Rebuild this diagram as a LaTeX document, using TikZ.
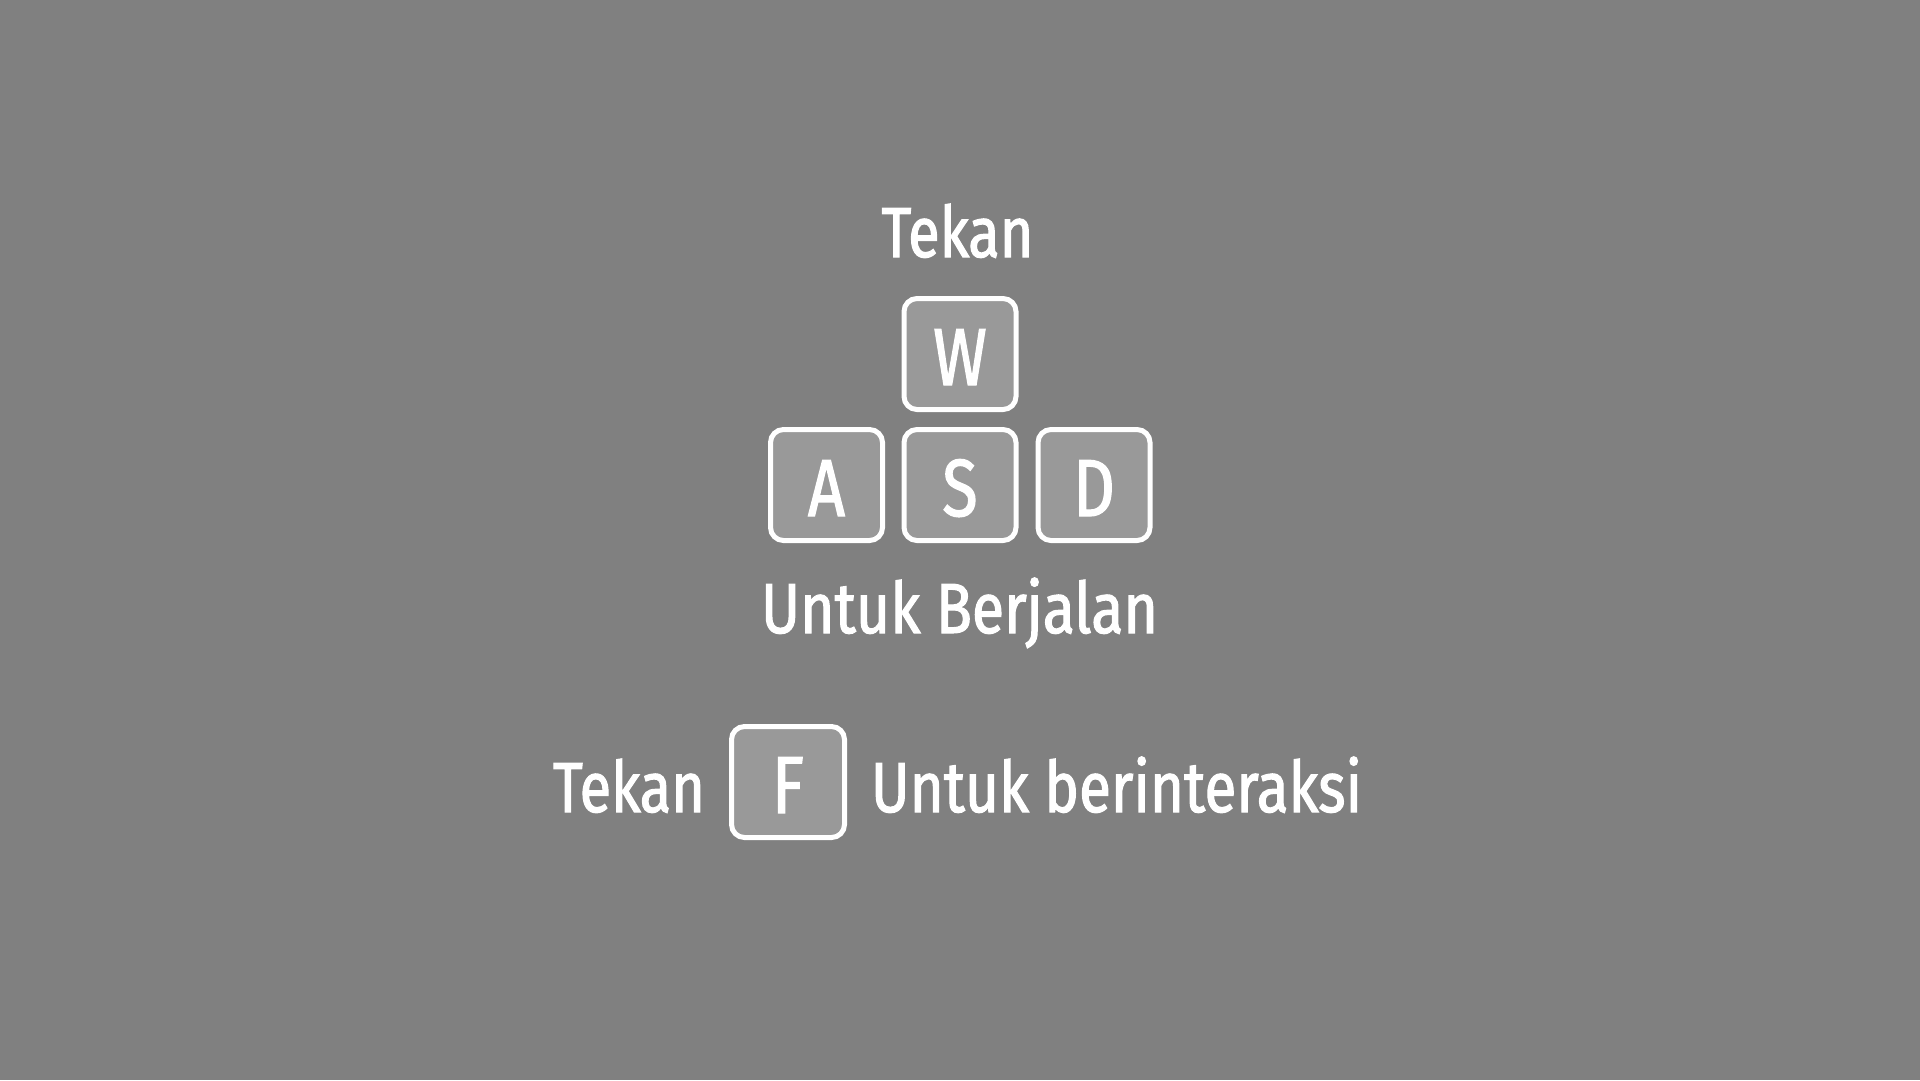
\documentclass[tikz,border=0pt]{standalone}
\usepackage{fontspec}
\setmainfont{Fira Sans}
\newfontfamily\uifont[FakeStretch=0.8,FakeBold=1.5]{Fira Sans}
\definecolor{bgc}{HTML}{808080}
\definecolor{keyc}{HTML}{999999}
\newcommand{\fitw}[2]{\resizebox{#1}{\height}{#2}}
\tikzset{
  keybox/.style={draw=white, line width=5pt, fill=keyc, rounded corners=13pt,
    minimum width=112pt, minimum height=111pt, inner sep=0pt,
    text=white, font=\uifont\fontsize{81}{81}\selectfont,
    text height=62pt, text depth=0pt, align=center},
  caption/.style={text=white, inner sep=0pt, anchor=base,
    font=\uifont\fontsize{71}{71}\selectfont}
}
\begin{document}
\begin{tikzpicture}[x=1pt,y=-1pt]
\fill[bgc] (0,0) rectangle (1920,1080);
\useasboundingbox (0,0) rectangle (1920,1080);
\node[caption] (t1) at (957.5,257) {\fitw{152pt}{Tekan}};
\node[keybox] (kW) at (960,354) {W};
\node[keybox] (kA) at (826.5,485) {A};
\node[keybox] (kS) at (960,485) {S};
\node[keybox] (kD) at (1094,485) {D};
\node[caption] (t2) at (959.5,633) {\fitw{397pt}{Untuk Berjalan}};
\node[caption] (t3) at (629,812) {\fitw{152pt}{Tekan}};
\node[keybox, minimum width=113pt] (kF) at (788,782) {F};
\node[caption] (t4) at (1116.5,812) {\fitw{491pt}{Untuk berinteraksi}};
\end{tikzpicture}
\end{document}
